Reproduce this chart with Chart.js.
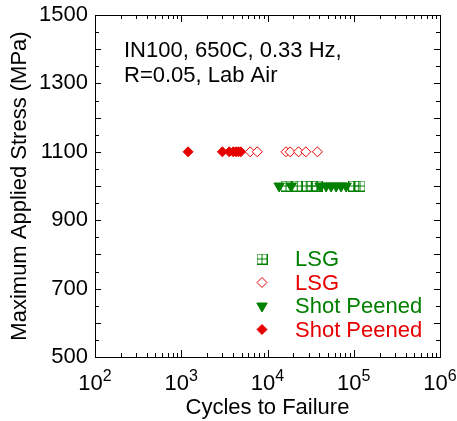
<!DOCTYPE html>
<html>
<head>
<meta charset="utf-8">
<script src="https://cdn.jsdelivr.net/npm/chart.js@4/dist/chart.umd.min.js"></script>
<style>
  html, body { margin: 0; padding: 0; background: #fff; }
  #wrap { width: 457px; height: 421px; }
</style>
</head>
<body>
<div id="wrap"><canvas id="myChart" width="457" height="421"></canvas></div>
<script>
// values
const lsgGreenCycles = [16400, 22100, 28100, 32900, 37600, 100000, 118000];
const lsgGreenStress = [1000, 1000, 1000, 1000, 1000, 1000, 1000];
const lsgRedCycles = [6300, 7600, 16400, 18300, 22900, 27800, 37900];
const lsgRedStress = [1100, 1100, 1100, 1100, 1100, 1100, 1100];
const spGreenCycles = [13650, 18800, 40700, 47800, 54600, 62400, 71300, 81500];
const spGreenStress = [1000, 1000, 1000, 1000, 1000, 1000, 1000, 1000];
const spRedCycles = [1200, 3000, 3600, 4000, 4300, 4600, 4900];
const spRedStress = [1100, 1100, 1100, 1100, 1100, 1100, 1100];

const xDecades = [2, 3, 4, 5, 6];
const yTickLabels = [500, 700, 900, 1100, 1300, 1500];
const noteLines = ['IN100, 650C, 0.33 Hz,', 'R=0.05, Lab Air'];

const GREEN = '#008000';
const RED = '#e60000';
const FONT = '"Liberation Sans", Arial, sans-serif';

function boxCross(color) {
  const c = document.createElement('canvas');
  c.width = 11; c.height = 11;
  const g = c.getContext('2d');
  g.strokeStyle = color;
  g.lineWidth = 1;
  g.strokeRect(0.5, 0.5, 10, 10);
  g.beginPath();
  g.moveTo(5.5, 0.5); g.lineTo(5.5, 10.5);
  g.moveTo(0.5, 5.5); g.lineTo(10.5, 5.5);
  g.stroke();
  return c;
}

function pts(xs, ys) {
  return xs.map((x, i) => ({ x: x, y: ys[i] }));
}

const datasets = [
  { label: 'LSG', data: pts(lsgGreenCycles, lsgGreenStress), pointStyle: boxCross(GREEN),
    borderColor: GREEN, backgroundColor: GREEN, pointRadius: 5 },
  { label: 'LSG', data: pts(lsgRedCycles, lsgRedStress), pointStyle: 'rectRot',
    borderColor: RED, backgroundColor: '#ffffff', pointRadius: 5, borderWidth: 1 },
  { label: 'Shot Peened', data: pts(spGreenCycles, spGreenStress), pointStyle: 'triangle',
    rotation: 180, borderColor: GREEN, backgroundColor: GREEN, pointRadius: 6, borderWidth: 1 },
  { label: 'Shot Peened', data: pts(spRedCycles, spRedStress), pointStyle: 'rectRot',
    borderColor: RED, backgroundColor: RED, pointRadius: 5, borderWidth: 1 }
];

// box, inward ticks, labels, note and legend
const decorations = {
  id: 'decorations',
  afterDraw(chart) {
    const ctx = chart.ctx;
    const a = chart.chartArea;
    const xs = chart.scales.x, ys = chart.scales.y;
    ctx.save();
    ctx.strokeStyle = '#000';
    ctx.lineWidth = 1;
    ctx.strokeRect(Math.round(a.left) + 0.5, Math.round(a.top) + 0.5,
      Math.round(a.right - a.left), Math.round(a.bottom - a.top));

    ctx.beginPath();
    // x ticks (log)
    for (let d = 2; d <= 6; d++) {
      for (let m = 1; m <= 9; m++) {
        if (d === 6 && m > 1) break;
        const v = m * Math.pow(10, d);
        const px = Math.round(xs.getPixelForValue(v)) + 0.5;
        const len = m === 1 ? 7 : 4;
        ctx.moveTo(px, a.bottom); ctx.lineTo(px, a.bottom - len);
        ctx.moveTo(px, a.top); ctx.lineTo(px, a.top + len);
      }
    }
    // y ticks
    for (let v = 500; v <= 1500; v += 50) {
      const py = Math.round(ys.getPixelForValue(v)) + 0.5;
      const len = v % 100 === 0 ? 6 : 4;
      ctx.moveTo(a.left, py); ctx.lineTo(a.left + len, py);
      ctx.moveTo(a.right, py); ctx.lineTo(a.right - len, py);
    }
    ctx.stroke();

    // x tick labels with superscripts
    ctx.fillStyle = '#000';
    ctx.textBaseline = 'alphabetic';
    xDecades.forEach(d => {
      const px = xs.getPixelForValue(Math.pow(10, d));
      ctx.font = '22px ' + FONT;
      const wb = ctx.measureText('10').width;
      ctx.font = '16px ' + FONT;
      const we = ctx.measureText(String(d)).width;
      const x0 = px - (wb + we) / 2;
      ctx.font = '22px ' + FONT;
      ctx.textAlign = 'left';
      ctx.fillText('10', x0, a.bottom + 33);
      ctx.font = '16px ' + FONT;
      ctx.fillText(String(d), x0 + wb, a.bottom + 24);
    });

    // axis titles
    ctx.font = '22px ' + FONT;
    ctx.textAlign = 'center';
    ctx.textBaseline = 'middle';
    ctx.fillText('Cycles to Failure', (a.left + a.right) / 2, a.bottom + 51);
    ctx.save();
    ctx.translate(20, (a.top + a.bottom) / 2);
    ctx.rotate(-Math.PI / 2);
    ctx.fillText('Maximum Applied Stress (MPa)', 0, 0);
    ctx.restore();

    // note
    ctx.font = '22px ' + FONT;
    ctx.textAlign = 'left';
    ctx.textBaseline = 'alphabetic';
    noteLines.forEach((t, i) => ctx.fillText(t, a.left + 29, a.top + 42 + i * 25));

    // legend inside the plot
    ctx.font = '22px ' + FONT;
    ctx.textBaseline = 'middle';
    chart.data.datasets.forEach((ds, i) => {
      const y = a.top + 244 + i * 23.5;
      ctx.fillStyle = ds.backgroundColor;
      ctx.strokeStyle = ds.borderColor;
      ctx.lineWidth = ds.borderWidth || 1;
      Chart.helpers.drawPoint(ctx, {
        pointStyle: ds.pointStyle, radius: ds.pointRadius,
        rotation: ds.rotation || 0, borderWidth: ds.borderWidth || 1
      }, a.left + 167, y);
      ctx.fillStyle = ds.borderColor;
      ctx.fillText(ds.label, a.left + 200, y + 1);
    });
    ctx.restore();
  }
};

const chart = new Chart(document.getElementById('myChart').getContext('2d'), {
  type: 'scatter',
  data: { datasets: datasets },
  options: {
    responsive: false,
    animation: false,
    layout: { padding: { top: 15, right: 17, left: 0, bottom: 0 } },
    plugins: { legend: { display: false }, tooltip: { enabled: false } },
    scales: {
      x: {
        type: 'logarithmic', min: 100, max: 1000000,
        border: { display: false },
        grid: { display: false, drawTicks: false },
        ticks: { display: false },
        afterFit(scale) { scale.height = 64; scale.paddingLeft = 0; scale.paddingRight = 0; }
      },
      y: {
        min: 500, max: 1500,
        border: { display: false },
        grid: { display: false, drawTicks: false },
        ticks: {
          stepSize: 200, padding: 7, color: '#000',
          font: { family: FONT, size: 22 },
          callback: (v) => yTickLabels.includes(v) ? String(v) : ''
        },
        afterFit(scale) { scale.width = 95; scale.paddingTop = 0; scale.paddingBottom = 0; }
      }
    }
  },
  plugins: [decorations]
});
</script>
</body>
</html>
